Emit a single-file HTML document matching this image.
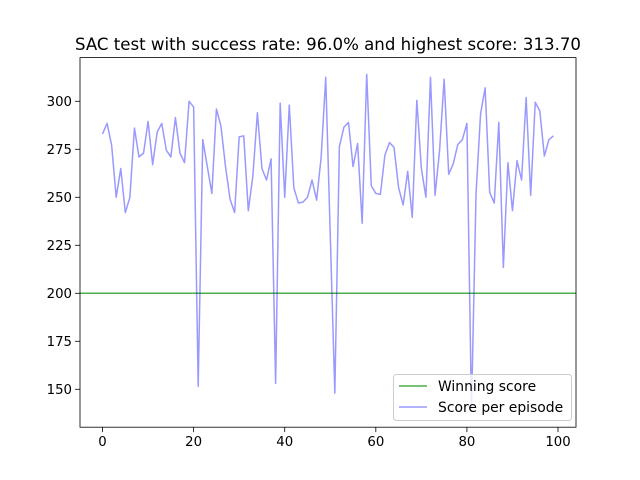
<!DOCTYPE html>
<html><head><meta charset="utf-8"><style>
html,body{margin:0;padding:0;background:#fff;}
svg{display:block;font-family:"DejaVu Sans","Liberation Sans",sans-serif;}
</style></head><body>
<svg id="chart" width="640" height="480" viewBox="0 0 640 480" xmlns="http://www.w3.org/2000/svg">
<rect width="640" height="480" fill="#fff"/>
<text x="328" y="50" font-size="16.6" text-anchor="middle" fill="#000">SAC test with success rate: 96.0% and highest score: 313.70</text>
<g id="plot"></g>
</svg>
<script>
const scores = [283,288.5,277,250,265,242,250,286,271,273,289.5,267,284,288.5,274.5,271,291.5,273,268,300,297,151.5,280,266,252,296,287,266,249,242,281.5,282,243,261,294,265,259,270,153,299,250,298,255,247,247.5,250,259,248.5,271,312.5,230,148,276.5,286.5,289,266,278,236.5,314,256,252,251.5,272,278.5,276,255,246,263.5,239.5,300.5,265,250,312.5,251,274.5,311.5,262,267.5,277.5,280,288.5,139,252,293.5,307,252.5,247,289,213.5,268,243,269,259,302,251,299.5,295,271.5,280,282];
const winningScore = 200;
const xTicks = [0,20,40,60,80,100];
const yTicks = [150,175,200,225,250,275,300];

const NS="http://www.w3.org/2000/svg";
const L=80,R=576,T=57.6,B=427.2;
const n=scores.length;
const xmin=-(n-1)*0.05, xmax=(n-1)*1.05;
const dmin=Math.min(...scores,winningScore), dmax=Math.max(...scores,winningScore);
const ymin=dmin-(dmax-dmin)*0.05, ymax=dmax+(dmax-dmin)*0.05;
const xs=v=>L+(v-xmin)/(xmax-xmin)*(R-L);
const ys=v=>B-(v-ymin)/(ymax-ymin)*(B-T);
const g=document.getElementById('plot');
function mk(tag,attrs){const e=document.createElementNS(NS,tag);for(const k in attrs)e.setAttribute(k,attrs[k]);g.appendChild(e);return e;}

const wl=mk('line',{x1:L,x2:R,y1:ys(winningScore),y2:ys(winningScore),stroke:'#2ca02c','stroke-opacity':0.85,'stroke-width':1.5});



const pts=scores.map((v,i)=>xs(i).toFixed(2)+','+ys(v).toFixed(2)).join(' ');
const sl=mk('polyline',{points:pts,fill:'none',stroke:'#0000ff','stroke-opacity':0.4,'stroke-width':1.5,'stroke-linejoin':'round'});



const fr=mk('rect',{x:L,y:T,width:R-L,height:B-T,fill:'none',stroke:'#000','stroke-width':0.8});



xTicks.forEach(t=>{
  const x=xs(t);
  const tk=mk('line',{x1:x,x2:x,y1:B,y2:B+4.9,stroke:'#000','stroke-width':0.8});
  
  
  const tx=mk('text',{x:x,y:B+19,'font-size':13.3,'text-anchor':'middle',fill:'#000'});
  tx.textContent=t;
  
  
});
yTicks.forEach(t=>{
  const y=ys(t);
  const tk=mk('line',{x1:L-4.9,x2:L,y1:y,y2:y,stroke:'#000','stroke-width':0.8});
  
  
  const tx=mk('text',{x:L-8,y:y+4.8,'font-size':13.3,'text-anchor':'end',fill:'#000'});
  tx.textContent=t;
  
  
});

const lg=mk('rect',{x:393.5,y:374.5,width:178,height:46,rx:3,fill:'#fff','fill-opacity':0.8,stroke:'#ccc','stroke-width':1});


const l1=mk('line',{x1:399,x2:427,y1:386,y2:386,stroke:'#2ca02c','stroke-opacity':0.85,'stroke-width':1.5});


const t1=mk('text',{x:438,y:391,'font-size':13.9,fill:'#000'});
t1.textContent='Winning score';


const l2=mk('line',{x1:399,x2:427,y1:407,y2:407,stroke:'#0000ff','stroke-opacity':0.4,'stroke-width':1.5});


const t2=mk('text',{x:438,y:412,'font-size':13.9,fill:'#000'});
t2.textContent='Score per episode';


</script>
</body></html>
